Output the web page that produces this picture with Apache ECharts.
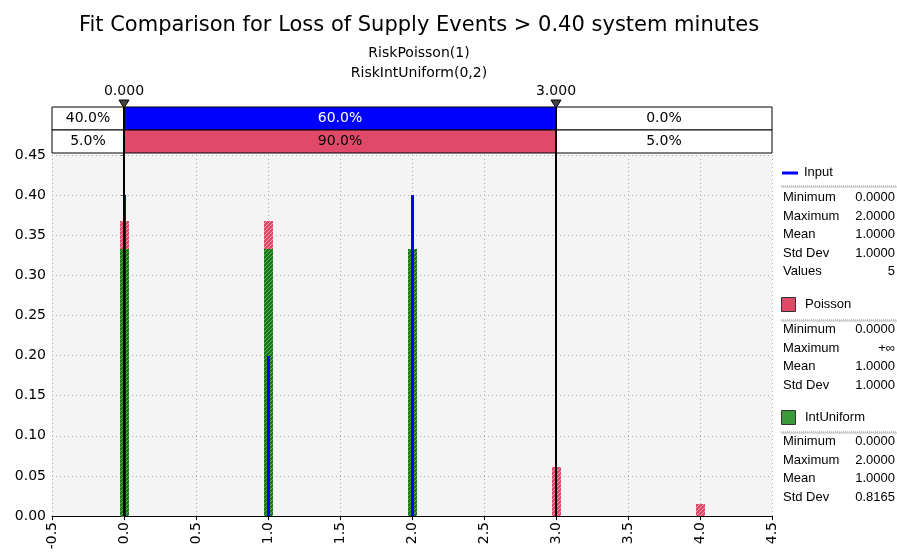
<!DOCTYPE html>
<html><head><meta charset="utf-8">
<script src="https://cdn.jsdelivr.net/npm/echarts@6/dist/echarts.min.js"></script>
<style>html,body{margin:0;padding:0;background:#fff}#c{width:897px;height:554px}</style>
</head><body><div id="c"></div>
<script>
// ---- data ----
const inputX = [0, 1, 2];
const inputY = [0.4, 0.2, 0.4];
const poissonX = [0, 1, 2, 3, 4];
const poissonY = [0.3679, 0.3679, 0.1839, 0.0613, 0.0153];
const uniformX = [0, 1, 2];
const uniformY = [0.3333, 0.3333, 0.3333];
const delimiters = [0, 3];
const delimiterLabels = ['0.000', '3.000'];
const row1Pct = ['40.0%', '60.0%', '0.0%'];
const row2Pct = ['5.0%', '90.0%', '5.0%'];
const xMin = -0.5, xMax = 4.5, xStep = 0.5;
const yMin = 0, yMax = 0.45, yStep = 0.05;
const inputStats = [['Minimum','0.0000'],['Maximum','2.0000'],['Mean','1.0000'],['Std Dev','1.0000'],['Values','5']];
const poissonStats = [['Minimum','0.0000'],['Maximum','+∞'],['Mean','1.0000'],['Std Dev','1.0000']];
const uniformStats = [['Minimum','0.0000'],['Maximum','2.0000'],['Mean','1.0000'],['Std Dev','0.8165']];

const FONT = 'DejaVu Sans';
const LFONT = 'Liberation Sans';
const BLUE = '#0000ff', RED = '#e04a68';

function stripes(bg, fg) {
  const c = document.createElement('canvas');
  c.width = 4; c.height = 4;
  const g = c.getContext('2d');
  g.fillStyle = bg; g.fillRect(0, 0, 4, 4);
  g.fillStyle = fg;
  for (let i = 0; i < 4; i++) g.fillRect(3 - i, i, 1, 1);
  return {image:c, repeat:'repeat'};
}
const redFill = stripes(RED, '#f4a0b4');
const greenFill = stripes('#1a7a1a', '#5fb05f');

const chart = echarts.init(document.getElementById('c'));

const bounds = [xMin, ...delimiters, xMax];
const segData = [];
const rowColors = [['#ffffff', BLUE, '#ffffff'], ['#ffffff', RED, '#ffffff']];
const rowText = [['#000', '#fff', '#000'], ['#000', '#000', '#000']];
[row1Pct, row2Pct].forEach((row, r) => {
  row.forEach((lab, i) => segData.push([bounds[i], bounds[i + 1], r, lab, i]));
});

function legendBlock(x, y, stats) {
  const els = [];
  stats.forEach((s, i) => {
    els.push({type:'text', left:x, top:y + i*18.6, style:{text:s[0], font:'13px ' + LFONT, fill:'#000'}});
    els.push({type:'text', right:2, top:y + i*18.6, style:{text:s[1], font:'13px ' + LFONT, fill:'#000', textAlign:'right'}});
  });
  return els;
}
function sep(y) {
  return [
    {type:'line', shape:{x1:781, y1:y, x2:897, y2:y}, style:{stroke:'#888', lineWidth:1, lineDash:[1,1]}},
    {type:'line', shape:{x1:781, y1:y+1, x2:897, y2:y+1}, style:{stroke:'#bbb', lineWidth:1}}
  ];
}

const graphics = [
  {type:'line', shape:{x1:782, y1:173, x2:798, y2:173}, style:{stroke:BLUE, lineWidth:3}},
  {type:'text', left:804, top:166, style:{text:'Input', font:'13px ' + LFONT, fill:'#000'}},
  ...sep(186),
  ...legendBlock(783, 191, inputStats),
  {type:'rect', shape:{x:781.5, y:297.5, width:14, height:14}, style:{fill:RED, stroke:'#333', lineWidth:1}},
  {type:'text', left:805, top:298, style:{text:'Poisson', font:'13px ' + LFONT, fill:'#000'}},
  ...sep(320),
  ...legendBlock(783, 323, poissonStats),
  {type:'rect', shape:{x:781.5, y:410.5, width:14, height:14}, style:{fill:'#3a9a3a', stroke:'#333', lineWidth:1}},
  {type:'text', left:805, top:411, style:{text:'IntUniform', font:'13px ' + LFONT, fill:'#000'}},
  ...sep(432),
  ...legendBlock(783, 435, uniformStats),
];

function barSeries(name, xs, ys, width, fill, z) {
  return {type:'custom', name:name, xAxisIndex:0, yAxisIndex:0, z:z,
    data:xs.map((x,i)=>[x,ys[i]]),
    renderItem:(params, api)=>{
      const top = api.coord([api.value(0), api.value(1)]);
      const base = api.coord([api.value(0), 0]);
      const x0 = Math.round(top[0] - width / 2);
      const y0 = Math.round(top[1]);
      return {type:'rect', shape:{x:x0, y:y0, width:width, height:Math.round(base[1]) - y0},
        style:{fill:fill}};
    }
  };
}

chart.setOption({
  animation:false,
  backgroundColor:'#fff',
  title:[
    {text:'Fit Comparison for Loss of Supply Events > 0.40 system minutes', left:414, top:10, textAlign:'center',
     textStyle:{fontFamily:FONT, fontSize:21, fontWeight:'normal', color:'#000'}},
    {text:'RiskPoisson(1)', left:414, top:41, textAlign:'center', textStyle:{fontFamily:FONT, fontSize:14, fontWeight:'normal', color:'#000'}},
    {text:'RiskIntUniform(0,2)', left:414, top:61, textAlign:'center', textStyle:{fontFamily:FONT, fontSize:14, fontWeight:'normal', color:'#000'}}
  ],
  grid:[
    {left:52, right:125, top:155, bottom:38, show:true, backgroundColor:'#f4f4f4', borderWidth:0},
    {left:52, right:125, top:107, height:46, show:false}
  ],
  xAxis:[
    {type:'value', gridIndex:0, min:xMin, max:xMax, interval:xStep,
     axisLine:{lineStyle:{color:'#000', width:1}}, axisTick:{show:true, length:4, lineStyle:{color:'#000'}},
     axisLabel:{rotate:90, color:'#000', fontFamily:FONT, fontSize:14, margin:6, formatter:v=>v.toFixed(1)},
     splitLine:{show:true, lineStyle:{color:'#aaa', type:[1,3]}}},
    {type:'value', gridIndex:1, min:xMin, max:xMax, show:false}
  ],
  yAxis:[
    {type:'value', gridIndex:0, min:yMin, max:yMax, interval:yStep,
     axisLine:{show:true, lineStyle:{color:'#666'}}, axisTick:{show:true, length:3, lineStyle:{color:'#666'}},
     axisLabel:{color:'#000', fontFamily:FONT, fontSize:14, margin:6, formatter:v=>v.toFixed(2)},
     splitLine:{show:true, lineStyle:{color:'#aaa', type:[1,3]}}},
    {type:'category', gridIndex:1, data:['r1','r2'], inverse:true, show:false}
  ],
  graphic:graphics,
  series:[
    barSeries('Poisson', poissonX, poissonY, 9, redFill, 2),
    barSeries('IntUniform', uniformX, uniformY, 9, greenFill, 3),
    Object.assign(barSeries('Input', inputX, inputY, 3, BLUE, 4), {
      markLine:{silent:true, symbol:'none', z:5, label:{show:false}, lineStyle:{color:'#000', width:2, type:'solid'},
        data:delimiters.map(d=>({xAxis:d}))}}),
    {type:'custom', xAxisIndex:1, yAxisIndex:1, data:segData, clip:false,
     renderItem:(params, api)=>{
       const s = api.value(0), e = api.value(1), r = api.value(2), idx = api.value(4);
       const lab = segData[params.dataIndex][3];
       const p0 = api.coord([s, r]), p1 = api.coord([e, r]);
       const h = api.size([0, 1])[1];
       return {type:'group', children:[
         {type:'rect', shape:{x:p0[0], y:p0[1]-h/2, width:p1[0]-p0[0], height:h},
          style:{fill:rowColors[r][idx], stroke:'#000', lineWidth:1}},
         {type:'text', style:{text:lab, x:(p0[0]+p1[0])/2, y:p0[1], align:'center', verticalAlign:'middle',
          font:'14px ' + FONT, fill:rowText[r][idx]}}
       ]};
     }},
    {type:'custom', xAxisIndex:1, yAxisIndex:1, data:delimiters.map((d,i)=>[d,i]), clip:false, z:10,
     renderItem:(params, api)=>{
       const x = api.coord([api.value(0), 0])[0];
       const top = params.coordSys.y;
       return {type:'group', children:[
         {type:'line', shape:{x1:x, y1:top-6, x2:x, y2:top+48}, style:{stroke:'#000', lineWidth:2}},
         {type:'polygon', shape:{points:[[x-5,top-7],[x+5,top-7],[x,top+1]]}, style:{fill:'#444', stroke:'#000', lineWidth:1}},
         {type:'text', style:{text:delimiterLabels[params.dataIndex], x:x, y:top-9, align:'center', verticalAlign:'bottom',
          font:'14px ' + FONT, fill:'#000'}}
       ]};
     }}
  ]
});
</script></body></html>
